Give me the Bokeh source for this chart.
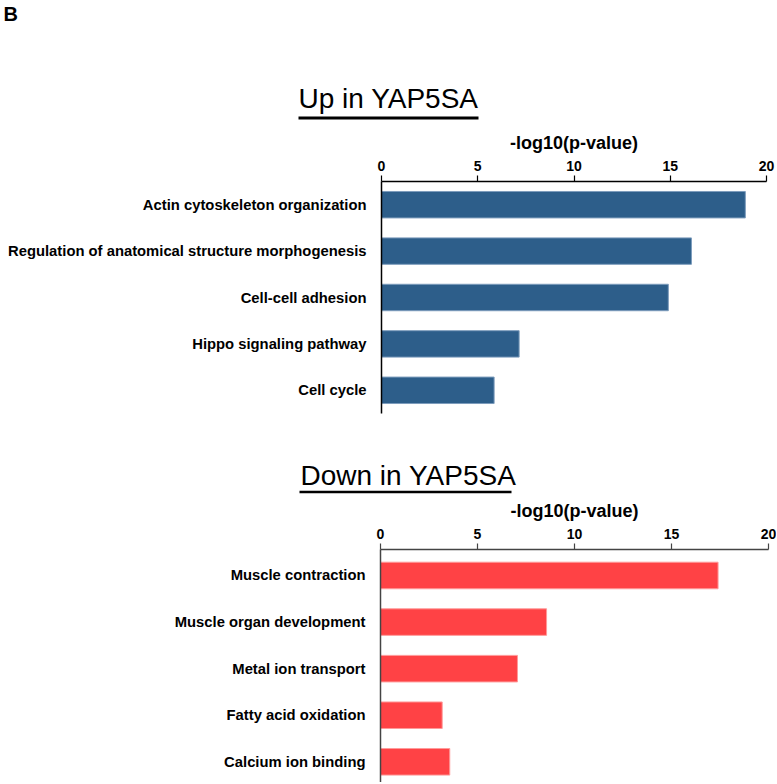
from bokeh.plotting import figure
from bokeh.models import FixedTicker, Range1d
from bokeh.core.properties import value
from bokeh.layouts import column
from bokeh.embed import file_html
from bokeh.resources import INLINE

# ---- data ----
up_terms = ["Actin cytoskeleton organization",
            "Regulation of anatomical structure morphogenesis",
            "Cell-cell adhesion",
            "Hippo signaling pathway",
            "Cell cycle"]
up_values = [18.9, 16.1, 14.9, 7.15, 5.85]

down_terms = ["Muscle contraction",
              "Muscle organ development",
              "Metal ion transport",
              "Fatty acid oxidation",
              "Calcium ion binding"]
down_values = [17.4, 8.56, 7.06, 3.18, 3.57]

x_ticks = [0, 5, 10, 15, 20]
axis_title = "-log10(p-value)"
up_title = "Up in YAP5SA"
down_title = "Down in YAP5SA"
panel_letter = "B"

FONT = "Liberation Sans"
W = 776


def title_fig(height, title, tx, ty, size, ul_x0, ul_x1, ul_y, ul_w, letter=None):
    f = figure(width=W, height=height, x_range=Range1d(0, W),
               y_range=Range1d(height, 0), output_backend="svg",
               toolbar_location=None, frame_align=False,
               min_border_left=0, min_border_right=0,
               min_border_top=0, min_border_bottom=0,
               x_axis_location=None, y_axis_location=None)
    f.grid.visible = False
    f.outline_line_color = None
    f.text(x=[tx], y=[ty], text=[title], text_font=value(FONT),
           text_font_size=size, text_baseline="alphabetic",
           text_align="left", text_color="black")
    f.segment(x0=[ul_x0], y0=[ul_y], x1=[ul_x1], y1=[ul_y],
              line_color="black", line_width=ul_w)
    if letter:
        f.text(x=[3], y=[2], text=[letter], text_font=value(FONT),
               text_font_style="bold", text_font_size="20px",
               text_baseline="top", text_align="left", text_color="black")
    return f


def make_chart(terms, values, fill, edge, height, y_lo, y_hi,
               left, frame_w, top, bottom, axis_color):
    n = len(terms)
    pos = list(range(n, 0, -1))
    p = figure(width=W, height=height,
               x_range=Range1d(0, 20), y_range=Range1d(y_lo, y_hi),
               x_axis_location="above", output_backend="svg",
               toolbar_location=None, frame_align=False,
               min_border_left=left, min_border_right=W - left - frame_w,
               min_border_top=top, min_border_bottom=bottom)
    p.hbar(y=pos, right=values, left=0, height=0.57,
           fill_color=fill, line_color=edge, line_width=1)
    p.outline_line_color = None
    p.xgrid.visible = False
    p.ygrid.visible = False

    xa = p.xaxis[0]
    xa.ticker = FixedTicker(ticks=x_ticks)
    xa.minor_tick_line_color = None
    xa.major_tick_out = 6
    xa.major_tick_in = 0
    xa.major_tick_line_color = axis_color
    xa.major_tick_line_width = 1.2
    xa.axis_line_color = axis_color
    xa.axis_line_width = 1.5
    xa.major_label_text_font = FONT
    xa.major_label_text_font_style = "bold"
    xa.major_label_text_font_size = "14px"
    xa.major_label_text_color = "black"
    xa.major_label_standoff = 5
    xa.axis_label = axis_title
    xa.axis_label_text_font = FONT
    xa.axis_label_text_font_style = "bold"
    xa.axis_label_text_font_size = "18px"
    xa.axis_label_text_color = "black"
    xa.axis_label_standoff = 5

    ya = p.yaxis[0]
    ya.ticker = FixedTicker(ticks=pos)
    ya.major_label_overrides = {k: t for k, t in zip(pos, terms)}
    ya.major_tick_line_color = None
    ya.minor_tick_line_color = None
    ya.major_tick_out = 0
    ya.major_tick_in = 0
    ya.axis_line_color = axis_color
    ya.axis_line_width = 1.5
    ya.major_label_text_font = FONT
    ya.major_label_text_font_style = "bold"
    ya.major_label_text_font_size = "14.8px"
    ya.major_label_text_color = "black"
    ya.major_label_standoff = 15
    return p


t1 = title_fig(125, up_title, 298, 98, "28px", 298, 478, 117.5, 3,
               letter=panel_letter)
p1 = make_chart(up_terms, up_values, "#2d5e8a", "#7d9cbc", 298, 0.5, 5.5,
                381, 385, 56, 10, "black")
t2 = title_fig(74, down_title, 300, 52, "28px", 299, 511, 68.5, 2.5)
p2 = make_chart(down_terms, down_values, "#ff4245", "#ff9a9a", 285,
                0.556, 5.558, 380, 388, 52, 0, "#444444")

layout = column(t1, p1, t2, p2, spacing=0)
open("out.html", "w").write(file_html(layout, INLINE))
